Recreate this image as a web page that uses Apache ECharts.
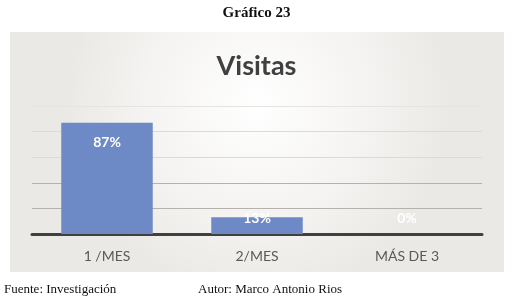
<!DOCTYPE html>
<html>
<head>
<meta charset="utf-8">
<script src="https://cdn.jsdelivr.net/npm/echarts@6/dist/echarts.min.js"></script>
<style>
html,body{margin:0;padding:0;background:#fff;}
#c{width:513px;height:302px;}
</style>
</head>
<body>
<div id="c"></div>
<script>
const categories = ['1 /MES', '2/MES', 'MÁS DE 3'];
const values = [87, 13, 0];
const yTicks = [0, 20, 40, 60, 80, 100];

const chart = echarts.init(document.getElementById('c'), null, {renderer: 'canvas'});
chart.setOption({
  backgroundColor: '#ffffff',
  animation: false,
  graphic: [
    {
      type: 'rect', z: -10, silent: true,
      shape: {x: 10, y: 32, width: 494, height: 240},
      style: {
        fill: new echarts.graphic.RadialGradient(0.5, 0.3, 0.8, [
          {offset: 0, color: '#ffffff'},
          {offset: 0.6, color: '#f4f3f1'},
          {offset: 1, color: '#eae9e6'}
        ])
      }
    },
    {
      type: 'text', left: 'center', top: 6,
      style: {text: 'Gráfico 23', font: 'bold 15px "Liberation Serif", serif', fill: '#111'}
    },
    {
      type: 'text', left: 4, top: 283,
      style: {text: 'Fuente: Investigación', font: '13px "Liberation Serif", serif', fill: '#111'}
    },
    {
      type: 'text', left: 198, top: 283,
      style: {text: 'Autor: Marco Antonio Rios', font: '13px "Liberation Serif", serif', fill: '#111'}
    }
  ],
  title: {
    text: 'Visitas', left: 'center', top: 48,
    textStyle: {fontFamily: 'Lato, "Open Sans", sans-serif', fontWeight: 'bold', fontSize: 27, color: '#404040'}
  },
  grid: {left: 32, right: 31, top: 106, bottom: 68},
  xAxis: {
    type: 'category', data: categories,
    axisLine: {lineStyle: {color: '#404040', width: 3}},
    axisTick: {show: false},
    axisLabel: {color: '#595959', fontSize: 14, fontFamily: 'Lato, "Open Sans", sans-serif', margin: 15}
  },
  yAxis: {
    type: 'value', min: 0, max: 100, interval: 20,
    axisLabel: {show: false},
    axisLine: {show: false},
    axisTick: {show: false},
    splitLine: {lineStyle: {color: ['#d9d7d3', '#b5b2ae', '#b5b2ae', '#dcdad6', '#dcdad6', '#e6e4e1'], width: 1}}
  },
  series: [{
    type: 'bar',
    barWidth: '61%',
    itemStyle: {color: '#6e8ac6'},
    data: values.map(v => ({
      value: v,
      label: v >= 30
        ? {position: 'insideTop', distance: 13}
        : {position: 'insideBottom', distance: 9}
    })),
    label: {
      show: true,
      formatter: p => p.value + '%',
      color: '#ffffff',
      fontWeight: 'bold',
      fontSize: 14,
      fontFamily: 'Lato, "Open Sans", sans-serif'
    }
  }]
});
</script>
</body>
</html>
